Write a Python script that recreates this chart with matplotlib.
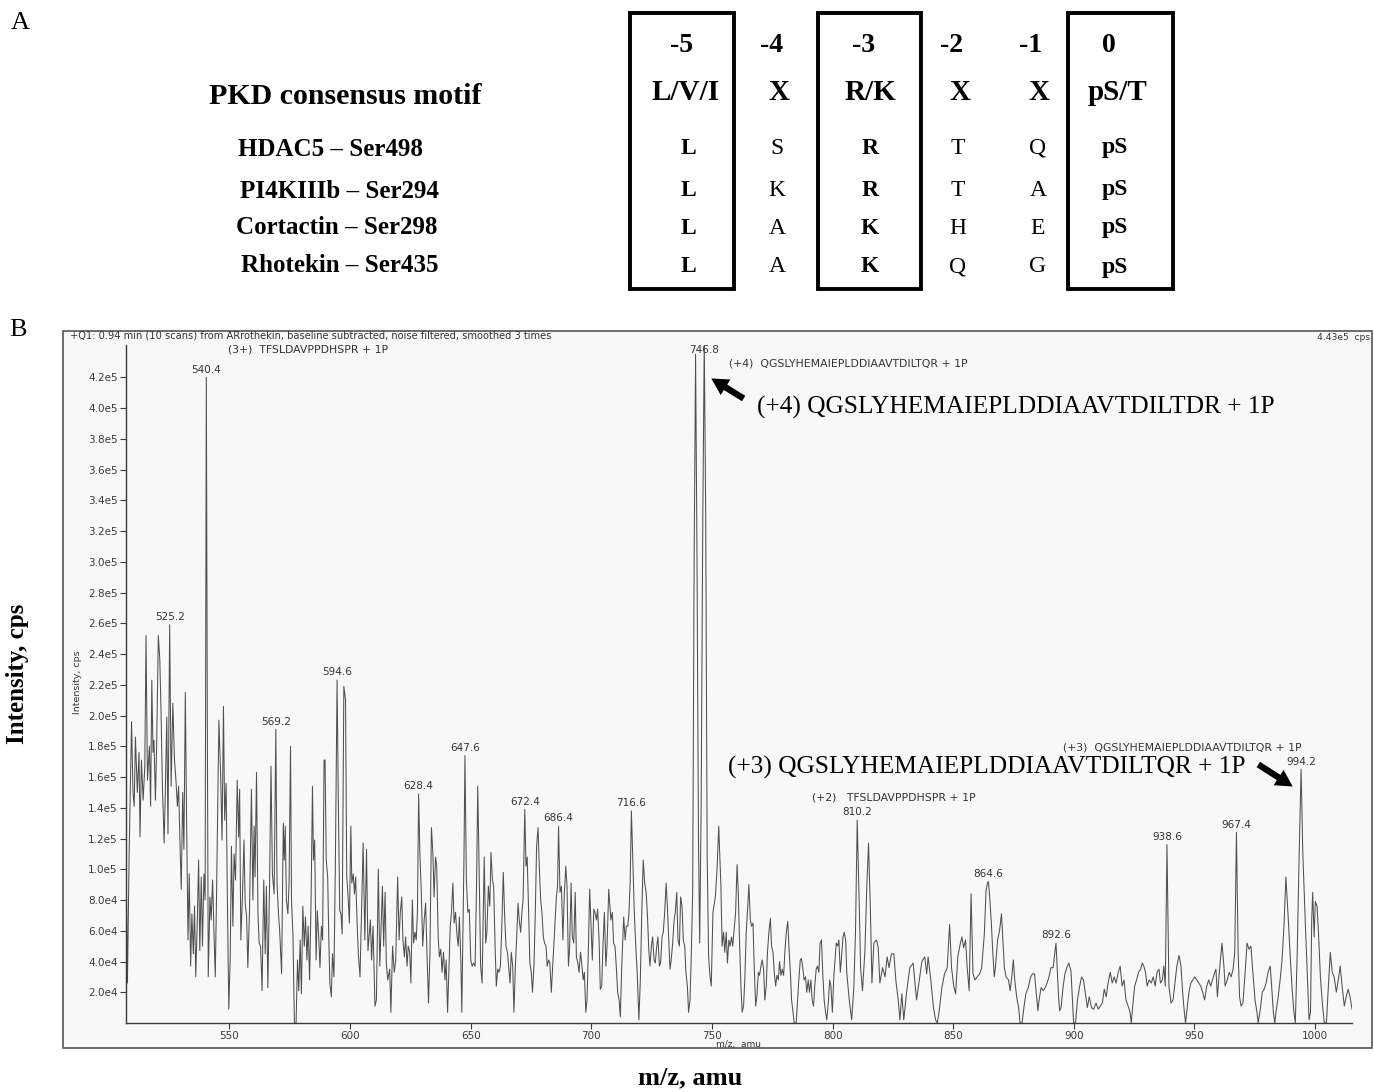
import matplotlib
matplotlib.use('Agg')
import matplotlib.pyplot as plt
from matplotlib.patches import Rectangle, FancyArrowPatch
from matplotlib.ticker import FuncFormatter
import numpy as np

# ---- panel A: PKD consensus motif table ----
positions = ['-5', '-4', '-3', '-2', '-1', '0']
motif = ['L/V/I', 'X', 'R/K', 'X', 'X', 'pS/T']
substrates = ['HDAC5 – Ser498', 'PI4KIIIb – Ser294', 'Cortactin – Ser298', 'Rhotekin – Ser435']
residues = [
    ['L', 'S', 'R', 'T', 'Q', 'pS'],
    ['L', 'K', 'R', 'T', 'A', 'pS'],
    ['L', 'A', 'K', 'H', 'E', 'pS'],
    ['L', 'A', 'K', 'Q', 'G', 'pS'],
]
boxed_cols = [0, 2, 5]

# ---- panel B: mass spectrum (m/z in amu, intensity in 1e3 cps) ----
mz = [
    507.2, 507.7, 508.4, 509.4, 510.0, 510.5, 511.0, 511.8, 512.5, 512.9,
    513.5, 514.2, 514.9, 515.4, 516.0, 516.8, 517.3, 517.8, 518.3, 518.7,
    519.3, 519.8, 520.5, 521.1, 521.6, 522.2, 522.9, 523.4, 524.0, 524.5,
    524.8, 525.2, 525.8, 526.5, 527.2, 527.8, 528.4, 528.9, 529.5, 530.0,
    530.6, 531.1, 531.7, 532.2, 532.8, 533.3, 533.9, 534.4, 535.0, 535.5,
    536.0, 536.6, 537.2, 537.7, 538.3, 538.8, 539.4, 539.9, 540.1, 540.4,
    540.8, 541.2, 541.9, 542.4, 543.0, 543.5, 544.1, 544.6, 545.6, 546.3,
    546.9, 547.5, 548.0, 548.6, 549.1, 549.7, 550.3, 550.8, 551.4, 551.9,
    552.5, 553.2, 553.8, 554.2, 554.7, 555.4, 556.0, 556.5, 557.1, 557.6,
    558.3, 559.1, 559.7, 560.2, 560.6, 561.2, 561.8, 562.3, 562.9, 563.5,
    564.2, 564.8, 565.3, 565.9, 566.6, 567.2, 567.8, 568.5, 569.2, 569.7,
    570.3, 570.8, 571.6, 572.3, 572.7, 573.1, 573.6, 574.2, 574.7, 575.3,
    575.7, 576.3, 576.9, 577.6, 578.2, 578.7, 579.3, 579.8, 580.4, 581.0,
    581.5, 582.1, 582.6, 583.2, 583.8, 584.4, 584.8, 585.3, 585.9, 586.4,
    587.0, 587.5, 588.1, 588.6, 589.2, 589.6, 590.1, 590.7, 591.2, 591.6,
    592.2, 592.7, 593.3, 593.9, 594.6, 595.1, 595.7, 596.2, 596.7, 597.4,
    598.1, 598.6, 599.1, 599.7, 600.3, 600.7, 601.3, 601.8, 602.3, 602.9,
    603.4, 604.1, 604.6, 605.4, 606.1, 606.8, 607.4, 608.4, 608.9, 609.5,
    610.3, 610.9, 611.7, 612.3, 612.8, 613.4, 613.9, 614.5, 615.0, 615.6,
    616.4, 616.9, 617.6, 618.3, 618.9, 619.7, 620.3, 620.8, 621.4, 621.9,
    622.5, 623.0, 623.6, 624.1, 624.7, 625.2, 625.8, 626.3, 626.9, 627.4,
    627.9, 628.4, 628.9, 629.5, 630.1, 630.7, 631.3, 631.9, 632.5, 633.1,
    633.7, 634.3, 634.8, 635.4, 635.9, 636.5, 637.0, 637.6, 638.1, 638.7,
    639.3, 639.8, 640.4, 640.9, 641.5, 642.0, 642.6, 643.1, 643.7, 644.2,
    644.8, 645.3, 645.9, 646.3, 646.8, 647.2, 647.6, 648.2, 648.8, 649.4,
    650.0, 650.6, 651.2, 651.8, 652.4, 652.9, 653.5, 654.1, 654.7, 655.2,
    655.6, 656.2, 656.7, 657.3, 657.9, 658.4, 659.0, 659.5, 660.1, 660.6,
    661.2, 661.7, 662.3, 662.8, 663.5, 664.0, 664.6, 665.2, 665.7, 666.3,
    666.8, 667.4, 667.9, 668.5, 669.0, 669.6, 670.1, 670.7, 671.2, 671.7,
    672.4, 672.9, 673.4, 674.0, 674.5, 675.1, 675.6, 676.2, 676.7, 677.3,
    677.9, 678.4, 679.0, 679.5, 680.1, 680.6, 681.2, 681.7, 682.3, 682.8,
    683.4, 683.9, 684.5, 685.0, 685.5, 686.0, 686.4, 687.0, 687.6, 688.2,
    688.8, 689.4, 689.9, 690.5, 691.0, 691.6, 692.1, 692.7, 693.3, 693.8,
    694.4, 694.9, 695.5, 696.0, 696.6, 697.1, 697.7, 698.2, 698.8, 699.3,
    699.9, 700.4, 701.0, 701.5, 702.1, 702.6, 703.2, 703.7, 704.3, 704.8,
    705.4, 706.0, 706.5, 707.2, 708.1, 708.7, 709.2, 709.8, 710.4, 710.9,
    711.5, 712.0, 712.6, 713.4, 714.0, 714.5, 715.1, 715.6, 716.1, 716.6,
    717.2, 717.8, 718.4, 719.0, 719.7, 720.3, 720.9, 721.5, 722.1, 722.7,
    723.2, 723.8, 724.3, 724.9, 725.4, 726.0, 726.5, 727.1, 727.6, 728.2,
    728.7, 729.3, 729.8, 730.4, 731.0, 731.5, 732.1, 732.6, 733.1, 733.7,
    734.3, 734.8, 735.4, 735.9, 736.5, 737.0, 737.6, 738.1, 738.7, 739.2,
    739.8, 740.3, 740.9, 741.4, 742.0, 742.6, 743.2, 743.8, 744.4, 744.9,
    745.5, 746.2, 746.8, 747.4, 748.0, 748.6, 749.2, 749.7, 750.4, 751.4,
    752.1, 752.8, 753.7, 754.2, 754.8, 755.3, 755.9, 756.4, 757.0, 757.5,
    758.1, 758.6, 759.2, 759.8, 760.4, 760.9, 761.4, 762.0, 762.5, 763.1,
    763.6, 764.2, 764.8, 765.3, 765.9, 766.4, 767.0, 767.5, 768.1, 768.6,
    769.2, 769.7, 770.3, 770.8, 771.4, 771.9, 772.5, 773.0, 773.6, 774.2,
    774.7, 775.3, 775.8, 776.4, 776.9, 777.5, 778.0, 778.6, 779.1, 779.7,
    780.2, 780.8, 781.4, 781.9, 782.5, 783.0, 783.6, 784.1, 784.9, 785.5,
    786.0, 786.6, 787.1, 787.7, 788.2, 788.8, 789.3, 789.9, 790.4, 791.0,
    791.5, 792.1, 792.6, 793.2, 793.7, 794.3, 794.8, 795.4, 795.9, 796.5,
    797.1, 797.6, 798.2, 798.8, 799.3, 799.9, 800.5, 801.0, 801.5, 802.1,
    802.6, 803.2, 803.8, 804.3, 804.8, 805.4, 805.9, 806.9, 807.9, 808.8,
    809.5, 810.2, 811.0, 811.6, 812.4, 813.4, 814.2, 814.9, 815.7, 816.3,
    817.1, 818.2, 818.9, 819.6, 820.7, 821.7, 822.6, 823.4, 824.4, 825.4,
    826.2, 827.2, 827.9, 828.7, 829.5, 830.6, 832.0, 833.4, 834.8, 836.1,
    837.0, 838.2, 839.0, 839.6, 840.7, 841.8, 842.7, 843.4, 844.2, 845.3,
    846.4, 847.5, 848.5, 849.3, 850.3, 851.0, 851.9, 852.7, 853.6, 854.3,
    855.1, 855.8, 856.6, 857.4, 858.2, 859.0, 859.9, 861.0, 861.8, 862.9,
    863.6, 864.2, 864.6, 865.2, 865.8, 866.3, 867.0, 867.5, 868.4, 869.2,
    870.0, 870.5, 871.2, 871.9, 872.9, 873.6, 874.4, 874.9, 875.5, 876.3,
    877.1, 877.7, 878.5, 879.3, 880.1, 881.1, 882.1, 882.9, 883.7, 884.2,
    885.1, 885.6, 886.4, 887.3, 888.1, 888.9, 889.7, 890.5, 891.4, 892.0,
    892.6, 893.1, 893.6, 894.1, 894.7, 895.5, 896.3, 897.1, 897.9, 898.8,
    899.3, 899.9, 900.7, 901.5, 902.3, 903.2, 904.0, 904.8, 905.6, 906.4,
    907.3, 908.2, 909.2, 910.1, 911.0, 911.8, 912.6, 913.4, 914.2, 915.1,
    915.9, 916.7, 917.5, 918.4, 919.2, 920.0, 920.8, 921.6, 922.5, 923.3,
    923.8, 924.4, 925.2, 926.0, 926.8, 927.7, 928.4, 929.0, 929.7, 930.4,
    931.2, 932.1, 932.9, 933.7, 934.5, 935.3, 935.9, 936.7, 937.3, 937.9,
    938.6, 939.4, 940.3, 941.1, 941.9, 942.7, 943.6, 944.4, 945.1, 945.8,
    946.3, 946.8, 947.7, 948.5, 949.3, 950.1, 951.0, 951.8, 952.6, 953.4,
    954.2, 955.1, 955.9, 956.7, 957.5, 958.4, 958.9, 959.5, 960.3, 961.4,
    962.2, 962.7, 963.6, 964.4, 965.2, 966.0, 966.7, 967.4, 968.1, 968.7,
    969.3, 970.1, 971.0, 971.8, 972.6, 973.4, 974.2, 975.1, 975.9, 976.4,
    977.3, 978.1, 978.9, 979.7, 980.5, 981.4, 981.9, 982.7, 983.3, 983.8,
    984.7, 985.5, 986.3, 987.1, 987.9, 988.8, 989.6, 990.4, 991.2, 991.8,
    992.6, 993.4, 994.2, 994.9, 995.9, 996.7, 997.5, 998.1, 998.6, 999.0,
    999.6, 1000.1, 1000.8, 1001.4, 1002.2, 1003.0, 1003.8, 1004.7, 1005.5, 1006.3,
    1007.1, 1007.9, 1008.8, 1009.6, 1010.4, 1011.2, 1012.1, 1012.9, 1013.7, 1014.5,
    1015.3,
]
intensity_k = [
    100, 26, 110, 196, 150, 141, 186, 150, 176, 121,
    171, 145, 167, 252, 158, 180, 141, 223, 176, 184,
    145, 180, 252, 237, 204, 154, 117, 150, 199, 123,
    184, 259, 154, 208, 171, 158, 141, 154, 115, 87,
    150, 113, 215, 134, 54, 97, 37, 71, 45, 76,
    30, 63, 106, 47, 95, 50, 97, 80, 228, 420,
    200, 30, 82, 67, 93, 63, 30, 80, 197, 163,
    119, 206, 132, 156, 84, 9, 43, 115, 63, 110,
    93, 158, 121, 152, 54, 84, 119, 78, 69, 36,
    73, 152, 80, 128, 95, 163, 71, 52, 50, 21,
    93, 45, 89, 23, 89, 167, 97, 84, 191, 91,
    71, 60, 32, 130, 106, 128, 80, 71, 91, 180,
    80, 58, 0, 0, 41, 21, 54, 19, 76, 50,
    69, 41, 63, 28, 78, 154, 106, 119, 41, 73,
    56, 36, 63, 54, 171, 171, 106, 95, 52, 26,
    17, 45, 30, 106, 223, 145, 73, 71, 58, 219,
    210, 95, 84, 65, 128, 91, 97, 84, 95, 65,
    45, 30, 63, 117, 54, 113, 47, 67, 41, 63,
    11, 15, 100, 37, 61, 89, 50, 85, 39, 28,
    35, 7, 50, 33, 41, 95, 54, 72, 82, 54,
    43, 56, 37, 50, 46, 26, 80, 52, 59, 54,
    72, 149, 111, 85, 50, 67, 78, 43, 13, 46,
    127, 111, 82, 108, 102, 56, 43, 48, 33, 46,
    28, 41, 7, 33, 63, 72, 91, 65, 72, 59,
    50, 69, 41, 7, 63, 108, 174, 93, 72, 74,
    41, 37, 39, 37, 89, 154, 98, 37, 26, 72,
    108, 52, 59, 89, 76, 111, 93, 89, 50, 24,
    35, 33, 37, 59, 98, 72, 50, 46, 37, 26,
    46, 37, 7, 37, 54, 78, 67, 59, 72, 80,
    139, 102, 108, 72, 39, 33, 20, 37, 67, 115,
    127, 102, 80, 72, 56, 52, 50, 37, 41, 39,
    20, 35, 54, 67, 82, 89, 128, 85, 89, 54,
    85, 102, 89, 37, 50, 91, 56, 52, 85, 43,
    39, 33, 46, 39, 28, 33, 7, 15, 50, 87,
    61, 41, 74, 72, 67, 74, 54, 22, 24, 50,
    72, 37, 50, 87, 67, 72, 52, 50, 35, 20,
    15, 4, 37, 69, 54, 63, 63, 72, 93, 138,
    104, 72, 50, 33, 2, 28, 72, 106, 91, 85,
    72, 48, 37, 50, 56, 41, 39, 50, 56, 37,
    39, 56, 59, 72, 91, 76, 54, 35, 41, 52,
    67, 72, 85, 54, 50, 82, 76, 54, 50, 33,
    24, 7, 15, 43, 85, 300, 435, 300, 120, 52,
    140, 330, 443, 330, 110, 43, 30, 24, 72, 82,
    100, 128, 89, 50, 59, 46, 59, 39, 54, 50,
    56, 50, 61, 72, 103, 85, 54, 24, 7, 11,
    28, 59, 75, 90, 67, 63, 65, 37, 11, 17,
    33, 31, 37, 41, 35, 15, 24, 46, 59, 68,
    50, 46, 33, 24, 31, 28, 40, 31, 35, 31,
    46, 59, 66, 50, 33, 15, 7, 0, 0, 15,
    28, 41, 42, 35, 28, 30, 20, 28, 20, 28,
    15, 11, 24, 35, 37, 33, 52, 54, 33, 15,
    7, 2, 13, 28, 24, 7, 30, 41, 52, 50,
    54, 33, 45, 56, 59, 54, 32, 15, 2, 23,
    60, 132, 80, 36, 21, 47, 90, 117, 71, 26,
    52, 54, 49, 26, 36, 30, 43, 36, 45, 45,
    28, 15, 2, 19, 2, 19, 36, 39, 15, 30,
    40, 43, 32, 43, 28, 10, 2, 0, 8, 23,
    32, 36, 64, 36, 23, 19, 43, 50, 56, 49,
    54, 36, 21, 84, 32, 28, 30, 32, 36, 58,
    86, 91, 92, 80, 65, 49, 30, 36, 54, 60,
    71, 56, 36, 30, 28, 21, 32, 41, 28, 17,
    10, 0, 0, 10, 19, 23, 30, 32, 32, 23,
    8, 15, 23, 21, 23, 26, 30, 36, 36, 44,
    52, 36, 19, 8, 10, 23, 32, 36, 39, 34,
    19, 0, 0, 15, 23, 30, 28, 19, 10, 17,
    10, 9, 13, 9, 11, 13, 22, 17, 26, 33,
    26, 30, 26, 33, 37, 24, 28, 15, 11, 7,
    0, 11, 24, 28, 33, 35, 39, 37, 33, 24,
    28, 26, 30, 24, 33, 35, 26, 28, 37, 24,
    116, 24, 13, 15, 26, 37, 44, 37, 20, 7,
    0, 7, 20, 26, 28, 30, 28, 26, 24, 20,
    15, 24, 28, 24, 28, 33, 35, 17, 33, 52,
    37, 24, 28, 33, 30, 35, 46, 124, 46, 17,
    11, 13, 33, 52, 48, 50, 33, 15, 7, 0,
    9, 20, 22, 26, 33, 37, 26, 7, 0, 7,
    17, 28, 41, 63, 95, 70, 46, 24, 7, 0,
    46, 110, 165, 111, 67, 35, 2, 7, 67, 85,
    56, 79, 76, 59, 30, 13, 0, 0, 24, 46,
    33, 30, 20, 28, 37, 24, 11, 17, 22, 17,
    9,
]
peak_labels = [525.2, 540.4, 569.2, 594.6, 628.4, 647.6, 672.4, 686.4, 716.6,
               746.8, 810.2, 864.6, 892.6, 938.6, 967.4, 994.2]
x_ticks = [550, 600, 650, 700, 750, 800, 850, 900, 950, 1000]

W, H = 1374, 1092
SERIF = 'Liberation Serif'
SANS = 'DejaVu Sans'
ink = '#3a3a3a'
small_col = '#333333'

fig = plt.figure(figsize=(W / 100, H / 100), dpi=100)

# background layer in pixel coordinates (y grows downward)
bg = fig.add_axes([0, 0, 1, 1], zorder=0)
bg.set_xlim(0, W)
bg.set_ylim(H, 0)
bg.axis('off')
bg.add_patch(Rectangle((63, 331), 1309, 717, facecolor='#f8f8f8',
                       edgecolor='#555555', linewidth=1.2))

# spectrum axes placed at the pixel box of the original plot
x0, x1, y0, y1 = 126, 1352, 345, 1023
ax = fig.add_axes([x0 / W, 1 - y1 / H, (x1 - x0) / W, (y1 - y0) / H], zorder=2)
ax.set_facecolor('none')
mz_arr = np.array(mz)
cps = np.array(intensity_k) * 1e3
ax.plot(mz_arr, cps, color='#505050', linewidth=0.75)
ax.set_xlim(507.1, 1015.3)
ax.set_ylim(0, 441000)
for s in ['top', 'right']:
    ax.spines[s].set_visible(False)
for s in ['left', 'bottom']:
    ax.spines[s].set_color(ink)
    ax.spines[s].set_linewidth(1.0)
ax.set_xticks(x_ticks)
ax.set_yticks(np.arange(20000, 440000, 20000))


def sci(v, pos):
    m, e = f'{v:.1e}'.split('e')
    return f'{m}e{int(e)}'


ax.yaxis.set_major_formatter(FuncFormatter(sci))
ax.tick_params(direction='out', length=4, width=0.8, colors=ink, labelsize=7.5, pad=2)
ax.tick_params(axis='x', pad=1.5)
for lab in ax.get_xticklabels() + ax.get_yticklabels():
    lab.set_family(SANS)

# peak m/z labels
for p in peak_labels:
    win = (mz_arr > p - 0.7) & (mz_arr < p + 0.7)
    top = min(cps[win].max(), 433000)
    ax.annotate(f'{p:.1f}', (p, top), xytext=(0, 2), textcoords='offset points',
                ha='center', va='bottom', fontsize=7.5, family=SANS, color=small_col,
                annotation_clip=False)

# overlay layer for all text and arrows
ov = fig.add_axes([0, 0, 1, 1], zorder=5)
ov.set_facecolor('none')
ov.set_xlim(0, W)
ov.set_ylim(H, 0)
ov.axis('off')

# panel A
ov.text(20, 23, 'A', fontsize=19, family=SERIF, ha='center', va='center')
ov.text(345, 96, 'PKD consensus motif', fontsize=21.5, family=SERIF, weight='bold',
        ha='center', va='center')
label_xy = [(331, 149), (339, 191), (337, 228), (340, 266)]
for name, (lx, ly) in zip(substrates, label_xy):
    ov.text(lx, ly, name, fontsize=18, family=SERIF, weight='bold', ha='center', va='center')

head_x = [682, 772, 864, 952, 1031, 1109]
motif_x = [686, 779, 870, 960, 1039, 1117]
res_x = [688, 777, 870, 958, 1038, 1115]
row_y = [148, 190, 228, 267]
for i in range(6):
    ov.text(head_x[i], 45, positions[i], fontsize=20, family=SERIF, weight='bold',
            ha='center', va='center')
    ov.text(motif_x[i], 92, motif[i], fontsize=21, family=SERIF, weight='bold',
            ha='center', va='center')
    for r, ry in enumerate(row_y):
        ov.text(res_x[i], ry, residues[r][i], fontsize=17, family=SERIF,
                weight='bold' if i in boxed_cols else 'normal', ha='center', va='center')

for bx0, bx1 in [(630, 734), (818, 921), (1068, 1173)]:
    ov.add_patch(Rectangle((bx0, 13), bx1 - bx0, 276, fill=False, edgecolor='black',
                           linewidth=2.8))

# panel B texts
ov.text(18, 330, 'B', fontsize=19, family=SERIF, ha='center', va='center')
ov.text(70, 336, '+Q1: 0.94 min (10 scans) from ARrothekin, baseline subtracted, '
        'noise filtered, smoothed 3 times', fontsize=7.1, family=SANS,
        ha='left', va='center', color=small_col)
ov.text(1370, 337, '4.43e5  cps', fontsize=6.6, family=SANS, ha='right', va='center',
        color=small_col)
ov.text(228, 350, '(3+)  TFSLDAVPPDHSPR + 1P', fontsize=7.8, family=SANS,
        ha='left', va='center', color=small_col)
ov.text(729, 364, '(+4)  QGSLYHEMAIEPLDDIAAVTDILTQR + 1P', fontsize=7.8, family=SANS,
        ha='left', va='center', color=small_col)
ov.text(812, 798, '(+2)   TFSLDAVPPDHSPR + 1P', fontsize=7.8, family=SANS,
        ha='left', va='center', color=small_col)
ov.text(1063, 747, '(+3)  QGSLYHEMAIEPLDDIAAVTDILTQR + 1P', fontsize=7.8, family=SANS,
        ha='left', va='center', color=small_col)
ov.text(77, 682, 'Intensity, cps', fontsize=6.8, family=SANS, rotation=90,
        ha='center', va='center', color=small_col)
ov.text(716, 1045, 'm/z,  amu', fontsize=6.5, family=SANS, ha='left', va='center',
        color=small_col)

ov.text(757, 407, '(+4) QGSLYHEMAIEPLDDIAAVTDILTDR + 1P', fontsize=18.3, family=SERIF,
        ha='left', va='center')
ov.text(728, 767, '(+3) QGSLYHEMAIEPLDDIAAVTDILTQR + 1P', fontsize=18.3, family=SERIF,
        ha='left', va='center')

arrow_style = 'simple,head_width=1.1,head_length=1.0,tail_width=0.38'
for (ax0, ay0), (ax1, ay1) in [((746, 400), (709, 377)), ((1256, 763), (1295, 788))]:
    ov.add_patch(FancyArrowPatch((ax0, ay0), (ax1, ay1), arrowstyle=arrow_style,
                                 mutation_scale=12, color='black', linewidth=0))

ov.text(18, 674, 'Intensity, cps', fontsize=18, family=SERIF, weight='bold',
        rotation=90, ha='center', va='center')
ov.text(690, 1078, 'm/z, amu', fontsize=19, family=SERIF, weight='bold',
        ha='center', va='center')

fig.savefig('out.png', dpi=100, facecolor='white')
